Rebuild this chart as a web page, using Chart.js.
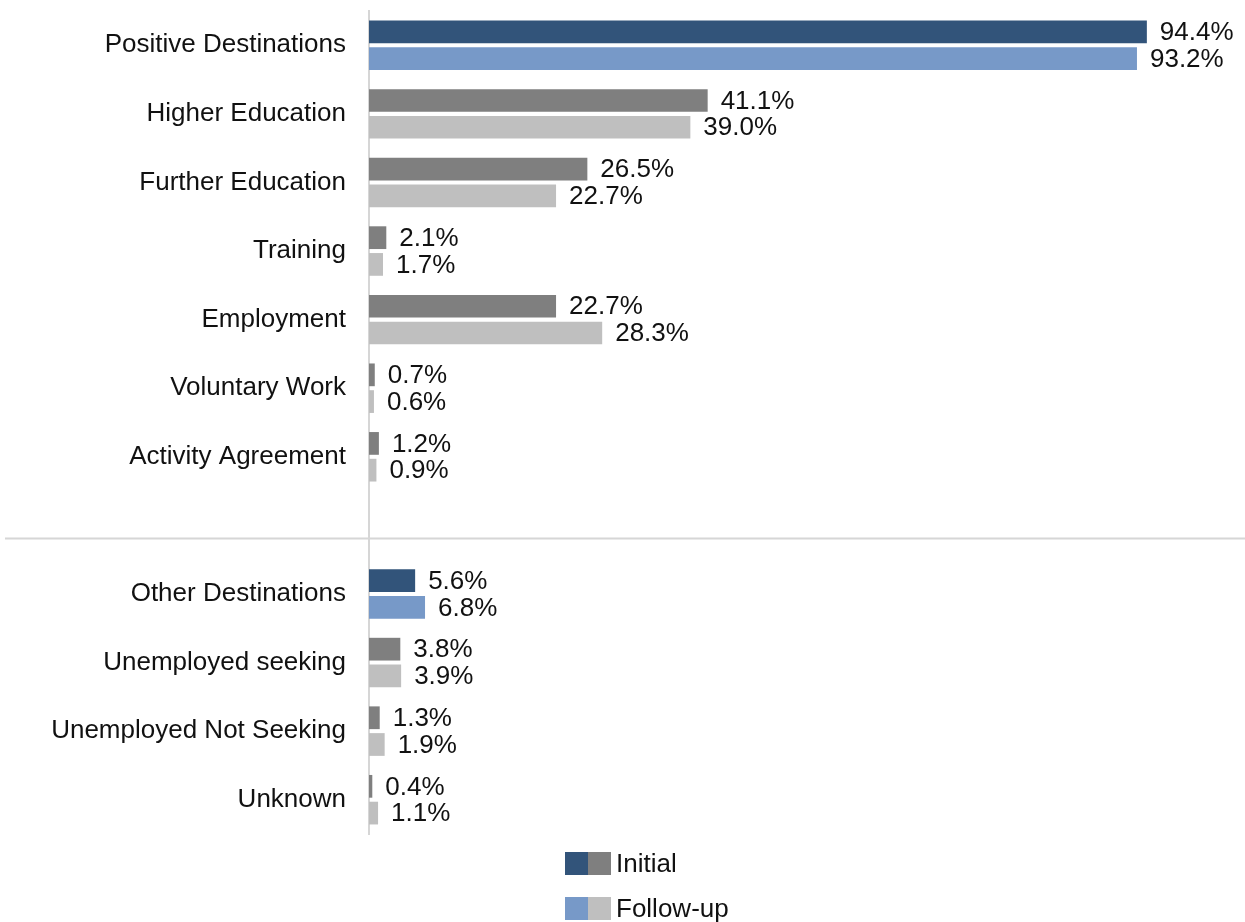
<!DOCTYPE html>
<html>
<head>
<meta charset="utf-8">
<script src="https://cdn.jsdelivr.net/npm/chart.js@4/dist/chart.umd.min.js"></script>
<style>
    body { margin: 0; background: #fff; font-family: 'Liberation Sans', Arial, sans-serif; }
    #wrap { position: relative; width: 1245px; height: 922px; }
    #legend { position: absolute; left: 565px; top: 851px; font-size: 26px; color: #111; }
    .item { display: flex; align-items: center; height: 25px; margin-bottom: 20px; }
    .sw { width: 23px; height: 23px; }
    .item span { margin-left: 5px; }
</style>
</head>
<body>
<div id="wrap">
    <canvas id="chart"></canvas>
    <div id="legend"></div>
</div>
<script>
// Data
const categories = [
    'Positive Destinations', 'Higher Education', 'Further Education', 'Training',
    'Employment', 'Voluntary Work', 'Activity Agreement', '',
    'Other Destinations', 'Unemployed seeking', 'Unemployed Not Seeking', 'Unknown'
];
const seriesNames = ['Initial', 'Follow-up'];
const initialValues = [94.4, 41.1, 26.5, 2.1, 22.7, 0.7, 1.2, null, 5.6, 3.8, 1.3, 0.4];
const followUpValues = [93.2, 39.0, 22.7, 1.7, 28.3, 0.6, 0.9, null, 6.8, 3.9, 1.9, 1.1];
const summaryRows = ['Positive Destinations', 'Other Destinations'];

// Colours
const initialColors = { summary: '#32547a', detail: '#7f7f7f' };
const followUpColors = { summary: '#7799c8', detail: '#bfbfbf' };

function colorsFor(palette) {
    return categories.map(c => summaryRows.includes(c) ? palette.summary : palette.detail);
}

const FONT = "'Liberation Sans', Arial, sans-serif";

// Value labels at the end of each bar
const valueLabels = {
    id: 'valueLabels',
    afterDatasetsDraw(chart) {
        const ctx = chart.ctx;
        ctx.save();
        ctx.font = '26px ' + FONT;
        ctx.fillStyle = '#111';
        ctx.textBaseline = 'middle';
        chart.data.datasets.forEach((ds, di) => {
            const meta = chart.getDatasetMeta(di);
            meta.data.forEach((bar, i) => {
                if (ds.data[i] == null) return;
                ctx.fillText(ds.data[i].toFixed(1) + '%', bar.x + 13, bar.y + 1);
            });
        });
        ctx.restore();
    }
};

// Separator between the two groups, placed in the empty category
const separator = {
    id: 'separator',
    afterDraw(chart) {
        const y = chart.scales.y;
        const idx = categories.indexOf('');
        const step = y.getPixelForValue(1) - y.getPixelForValue(0);
        const py = Math.round(y.getPixelForValue(idx) + step * 0.19) + 0.5;
        const ctx = chart.ctx;
        ctx.save();
        ctx.strokeStyle = '#d6d6d6';
        ctx.lineWidth = 2;
        ctx.beginPath();
        ctx.moveTo(5, py);
        ctx.lineTo(chart.width, py);
        ctx.stroke();
        ctx.restore();
    }
};

const chart = new Chart(document.getElementById('chart'), {
    type: 'bar',
    data: {
        labels: categories,
        datasets: [
            { label: seriesNames[0], data: initialValues, backgroundColor: colorsFor(initialColors) },
            { label: seriesNames[1], data: followUpValues, backgroundColor: colorsFor(followUpColors) }
        ]
    },
    options: {
        indexAxis: 'y',
        responsive: true,
        maintainAspectRatio: false,
        animation: false,
        categoryPercentage: 0.78,
        barPercentage: 0.85,
        layout: { padding: { top: 11, bottom: 88, right: 52, left: 0 } },
        plugins: {
            legend: { display: false },
            tooltip: { enabled: false }
        },
        scales: {
            x: { display: false, min: 0, max: 100 },
            y: {
                grid: { display: false, drawTicks: false },
                border: { display: true, color: '#d6d6d6', width: 2 },
                ticks: { color: '#111', padding: 23, font: { family: FONT, size: 26 } },
                afterFit: s => {
                    s.width = 369;
                    s.paddingTop = 0;
                    s.paddingBottom = 0;
                }
            }
        }
    },
    plugins: [valueLabels, separator]
});

// Legend with two swatches per series
const legend = document.getElementById('legend');
[initialColors, followUpColors].forEach((pal, i) => {
    const row = document.createElement('div');
    row.className = 'item';
    row.innerHTML = `<div class="sw" style="background:${pal.summary}"></div>` +
        `<div class="sw" style="background:${pal.detail}"></div><span>${seriesNames[i]}</span>`;
    legend.appendChild(row);
});
</script>
</body>
</html>
